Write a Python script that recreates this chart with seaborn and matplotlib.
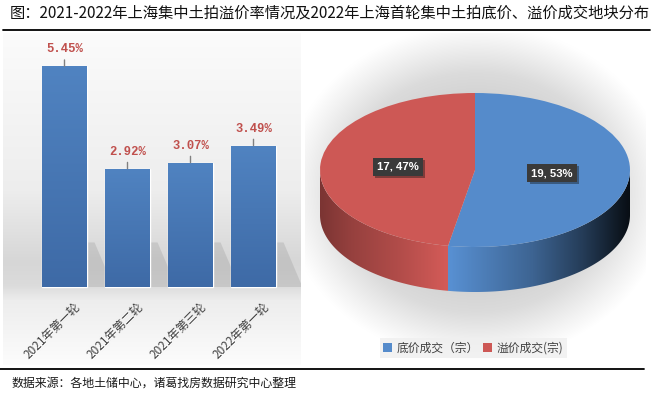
import numpy as np
import matplotlib
matplotlib.use("Agg")
import matplotlib.pyplot as plt
import seaborn as sns
import pandas as pd
from matplotlib.lines import Line2D
from matplotlib.path import Path
from matplotlib.patches import PathPatch, Polygon
from matplotlib import patheffects as pe

sns.set_theme(style="white")
plt.rcParams['font.family'] = ['Noto Sans CJK SC', 'DejaVu Sans']

# ---------------- data ----------------
rounds = ["2021年第一轮", "2021年第二轮", "2021年第三轮", "2022年第一轮"]
premium_rate = [5.45, 2.92, 3.07, 3.49]
pie_labels = ["底价成交（宗）", "溢价成交(宗)"]
pie_counts = [19, 17]
title = "图：2021-2022年上海集中土拍溢价率情况及2022年上海首轮集中土拍底价、溢价成交地块分布"
source = "数据来源：各地土储中心，诸葛找房数据研究中心整理"

# ---------------- figure ----------------
W, H = 654, 395
fig = plt.figure(figsize=(W / 100, H / 100), dpi=100)
fig.patch.set_facecolor("white")


def ax_rect(x0, y0, x1, y1):
    return [x0 / W, 1 - y1 / H, (x1 - x0) / W, (y1 - y0) / H]


# ================= left: bar chart =================
LX0, LY0, LX1, LY1 = 3, 33, 301, 365
axL = fig.add_axes(ax_rect(LX0, LY0, LX1, LY1))
df = pd.DataFrame({"round": rounds, "rate": premium_rate})
sns.barplot(data=df, x="round", y="rate", ax=axL, color="#4A7DBA",
            width=0.714, saturation=1, zorder=2)

xlim = ((LX0 - 64.5) / 63, (LX1 - 64.5) / 63)
ylim = (-(LY1 - 287) / 40.5, (287 - LY0) / 40.5)

# background vertical gradient
py = np.arange(LY0, LY1)
vals = np.interp(py, [33, 190, 262, 285, 300, 365], [0.985, 0.93, 0.84, 0.86, 0.93, 0.99])
bg = np.repeat(vals[:, None], 2, axis=1)
bg = np.dstack([bg, bg, bg])
axL.imshow(bg, extent=[xlim[0], xlim[1], ylim[0], ylim[1]], aspect="auto",
           zorder=0, interpolation="bilinear")

# bar gradients + soft floor shadows
top_c = np.array([80, 131, 193]) / 255
bot_c = np.array([62, 106, 166]) / 255
grad = np.linspace(0, 1, 64)[:, None]
gcol = top_c[None, :] * (1 - grad) + bot_c[None, :] * grad
gimg = gcol[:, None, :]
for p in list(axL.patches):
    x, y = p.get_x(), p.get_y()
    w, h = p.get_width(), p.get_height()
    im = axL.imshow(gimg, extent=[x, x + w, y, y + h], aspect="auto",
                    zorder=2.5, interpolation="bilinear")
    im.set_clip_path(p)
    sh = Polygon([(x + w, y), (x + w, y + 1.1), (x + w + 0.12, y + 1.1),
                  (x + w + 0.42, y)], closed=True, facecolor="#808080",
                 edgecolor="none", alpha=0.22, zorder=1)
    axL.add_patch(sh)

for i, v in enumerate(premium_rate):
    axL.annotate(f"{v:.2f}%", xy=(i, v), xytext=(0, 17), textcoords="offset pixels",
                 ha="center", va="center", fontfamily="Liberation Mono",
                 fontweight="bold", fontsize=8.8, color="#C0504D",
                 arrowprops=dict(arrowstyle="-", color="#808080", lw=1,
                                 shrinkA=1, shrinkB=0), zorder=4)
    axL.text(i + 0.14, -0.32, rounds[i], rotation=45, rotation_mode="anchor",
             ha="right", va="top", fontsize=8.5, color="#404040", zorder=4)

axL.set_xlim(*xlim)
axL.set_ylim(*ylim)
axL.axis("off")

# ================= right: 3D pie =================
RX0, RY0, RX1, RY1 = 305, 33, 646, 365
CX, CY, RXp, RYp = 475, 170, 155, 77
axR = fig.add_axes(ax_rect(RX0, RY0, RX1, RY1))
rxlim = ((RX0 - CX) / RXp, (RX1 - CX) / RXp)
rylim = ((CY - RY1) / RYp, (CY - RY0) / RYp)

# glow background
gx, gy = np.meshgrid(np.arange(RX0, RX1), np.arange(RY0, RY1))
r = np.sqrt(((gx - 476) / 172) ** 2 + ((gy - 192) / 150) ** 2)
v = np.interp(r, [0.6, 0.8, 1.0, 1.12], [0.82, 0.86, 0.95, 1.0])
axR.imshow(np.dstack([v, v, v]), extent=[rxlim[0], rxlim[1], rylim[0], rylim[1]],
           aspect="auto", zorder=0, interpolation="bilinear")

blue = "#558BCB"
red = "#CD5855"
total = sum(pie_counts)


def fmt(p):
    return f"{int(round(p * total / 100))}, {p:.0f}%"


wedges, _, autotexts = axR.pie(pie_counts, startangle=90, counterclock=False,
                               colors=[blue, red], radius=1, center=(0, 0),
                               autopct=fmt, pctdistance=0.5,
                               wedgeprops=dict(linewidth=0, zorder=3),
                               textprops=dict(color="white", fontfamily="Liberation Sans",
                                              fontweight="bold", fontsize=8.2, zorder=6))
for w in wedges:
    w.set_zorder(3)
for t in autotexts:
    t.set_bbox(dict(boxstyle="square,pad=0.35", facecolor="#3A3A3A", edgecolor="none"))
    t.get_bbox_patch().set_path_effects([pe.SimplePatchShadow(offset=(1.5, -1.5), alpha=0.4),
                                         pe.Normal()])

# side of the pie
depth = 45 / RYp
tt = np.linspace(np.pi, 2 * np.pi, 300)
top_pts = np.column_stack([np.cos(tt), np.sin(tt)])
bot_pts = np.column_stack([np.cos(tt[::-1]), np.sin(tt[::-1]) - depth])
side_path = Path(np.vstack([top_pts, bot_pts, top_pts[:1]]), closed=True)
side_patch = PathPatch(side_path, facecolor="none", edgecolor="none", zorder=2)
axR.add_patch(side_patch)

ncol = 700
xs = np.linspace(-1, 1, ncol)
ang = -np.degrees(np.arccos(xs))  # front bottom angle, -180..0
frac_pos = ((90 - ang) % 360) / 360
cum = np.cumsum(np.array(pie_counts) / total)
idx = np.clip(np.searchsorted(cum, frac_pos, side="right"), 0, len(pie_counts) - 1)
base = np.array([matplotlib.colors.to_rgb(c) for c in [blue, red]])
shade = np.interp(xs, [-1, -0.8, -0.48, -0.17, 0.37, 0.7, 0.94, 1.0],
                  [0.6, 0.73, 0.87, 1.04, 0.72, 0.43, 0.16, 0.1])
side_cols = np.clip(base[idx] * shade[:, None], 0, 1)
side_img = np.repeat(side_cols[None, :, :], 2, axis=0)
sim = axR.imshow(side_img, extent=[-1, 1, -1 - depth, 0], aspect="auto",
                 zorder=2, interpolation="nearest")
sim.set_clip_path(side_patch)

axR.set_aspect("auto")
axR.set_xlim(*rxlim)
axR.set_ylim(*rylim)
axR.axis("off")

leg = axR.legend(wedges, pie_labels, loc="center", bbox_to_anchor=(0.493, 0.051),
                 ncol=2, frameon=True, fontsize=8.5, handlelength=0.75, handleheight=0.75,
                 handletextpad=0.35, columnspacing=0.4, borderpad=0.3, fancybox=False)
leg.get_frame().set_facecolor("#EFEFEF")
leg.get_frame().set_edgecolor("none")
for t in leg.get_texts():
    t.set_color("#404040")

# ================= title / lines / source =================
fig.text(10 / W, 1 - 13 / H, title, fontsize=11, ha="left", va="center", color="#111111")
fig.add_artist(Line2D([3 / W, 650 / W], [1 - 29.5 / H] * 2, color="black", lw=1.3))
fig.add_artist(Line2D([0, 644 / W], [1 - 369 / H] * 2, color="black", lw=1.3))
fig.text(12 / W, 1 - 383 / H, source, fontsize=8.6, ha="left", va="center", color="#1A1A1A")

fig.savefig("out.png", dpi=100)
